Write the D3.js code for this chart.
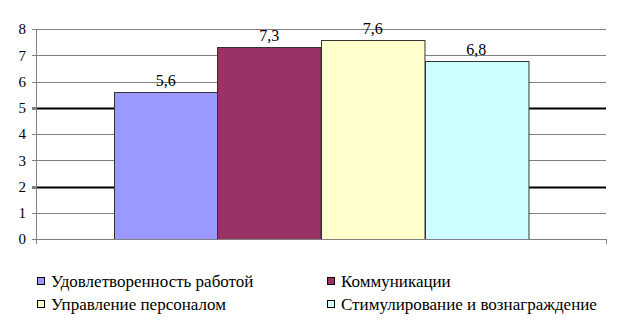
<!DOCTYPE html>
<meta charset="utf-8">
<style>
body { margin: 0; background: white; }
.axis path, .axis line { stroke: #808080; shape-rendering: crispEdges; }
</style>
<body>
<svg width="621" height="324"></svg>
<script src="https://d3js.org/d3.v7.min.js"></script>
<script>
var series = ["Удовлетворенность работой", "Коммуникации", "Управление персоналом", "Стимулирование и вознаграждение"];
var values = [5.6, 7.3, 7.6, 6.8];
var colors = ["#9999ff", "#993366", "#ffffcc", "#ccffff"];
var yTicks = [0, 1, 2, 3, 4, 5, 6, 7, 8];
var darkTicks = [2, 5];

var font = "'Liberation Serif', 'DejaVu Serif', serif";

var margin = {top: 29, right: 15, bottom: 85, left: 36},
    width = 621 - margin.left - margin.right,
    height = 324 - margin.top - margin.bottom;

var svg = d3.select("svg");
var g = svg.append("g")
    .attr("transform", "translate(" + margin.left + "," + margin.top + ")");

var y = d3.scaleLinear().domain([0, 8]).range([height, 0]);

// one category, four bars, gap width 150%
var x0 = d3.scaleBand().domain(["c"]).range([0, width]).paddingInner(0).paddingOuter(0.1884);
var x1 = d3.scaleBand().domain(series).range([0, x0.bandwidth()]);

// gridlines
g.selectAll(".grid")
    .data(yTicks.filter(function(d) { return d > 0; }))
  .enter().append("line")
    .attr("x1", -4)
    .attr("x2", width)
    .attr("y1", function(d) { return Math.round(y(d)) + 0.5; })
    .attr("y2", function(d) { return Math.round(y(d)) + 0.5; })
    .attr("stroke", function(d) { return darkTicks.indexOf(d) >= 0 ? "#000" : "#808080"; })
    .attr("stroke-width", function(d) { return darkTicks.indexOf(d) >= 0 ? 2 : 1; });

// bars
g.selectAll(".bar")
    .data(values)
  .enter().append("rect")
    .attr("x", function(d, i) { return Math.round(x0("c") + x1(series[i])) + 0.5; })
    .attr("width", x1.bandwidth())
    .attr("y", function(d) { return Math.round(y(d)) + 0.5; })
    .attr("height", function(d) { return height - Math.round(y(d)); })
    .attr("fill", function(d, i) { return colors[i]; })
    .attr("stroke", "#333")
    .attr("stroke-width", 1);

// value labels
g.selectAll(".lbl")
    .data(values)
  .enter().append("text")
    .attr("x", function(d, i) { return x0("c") + x1(series[i]) + x1.bandwidth() / 2; })
    .attr("y", function(d) { return y(d) - 6; })
    .attr("text-anchor", "middle")
    .style("font-family", font)
    .style("font-size", "16px")
    .text(function(d) { return String(d).replace(".", ","); });

// y axis
g.append("g")
    .attr("class", "axis")
    .call(d3.axisLeft(y).tickValues(yTicks).tickSize(4).tickSizeOuter(0).tickPadding(6))
    .selectAll("text")
    .style("font-family", font)
    .style("font-size", "15px")
    .style("fill", "#000");

// x axis line with end ticks
var xa = g.append("g").attr("class", "axis");
xa.append("line").attr("x1", 0).attr("x2", width).attr("y1", height + 0.5).attr("y2", height + 0.5);
xa.selectAll(".et").data([0, width]).enter().append("line")
    .attr("x1", function(d) { return d + 0.5; }).attr("x2", function(d) { return d + 0.5; })
    .attr("y1", height).attr("y2", height + 5);

// legend
var legend = svg.append("g");
var item = legend.selectAll(".item")
    .data(series)
  .enter().append("g")
    .attr("transform", function(d, i) {
      return "translate(" + (i % 2 === 0 ? 37 : 327) + "," + (i < 2 ? 277 : 300) + ")";
    });
item.append("rect")
    .attr("x", 0.5).attr("y", 0.5).attr("width", 7).attr("height", 7)
    .attr("fill", function(d, i) { return colors[i]; })
    .attr("stroke", "#000");
item.append("text")
    .attr("x", 14)
    .attr("y", 9.5)
    .style("font-family", font)
    .style("font-size", "17px")
    .text(function(d) { return d; });
</script>
</body>
